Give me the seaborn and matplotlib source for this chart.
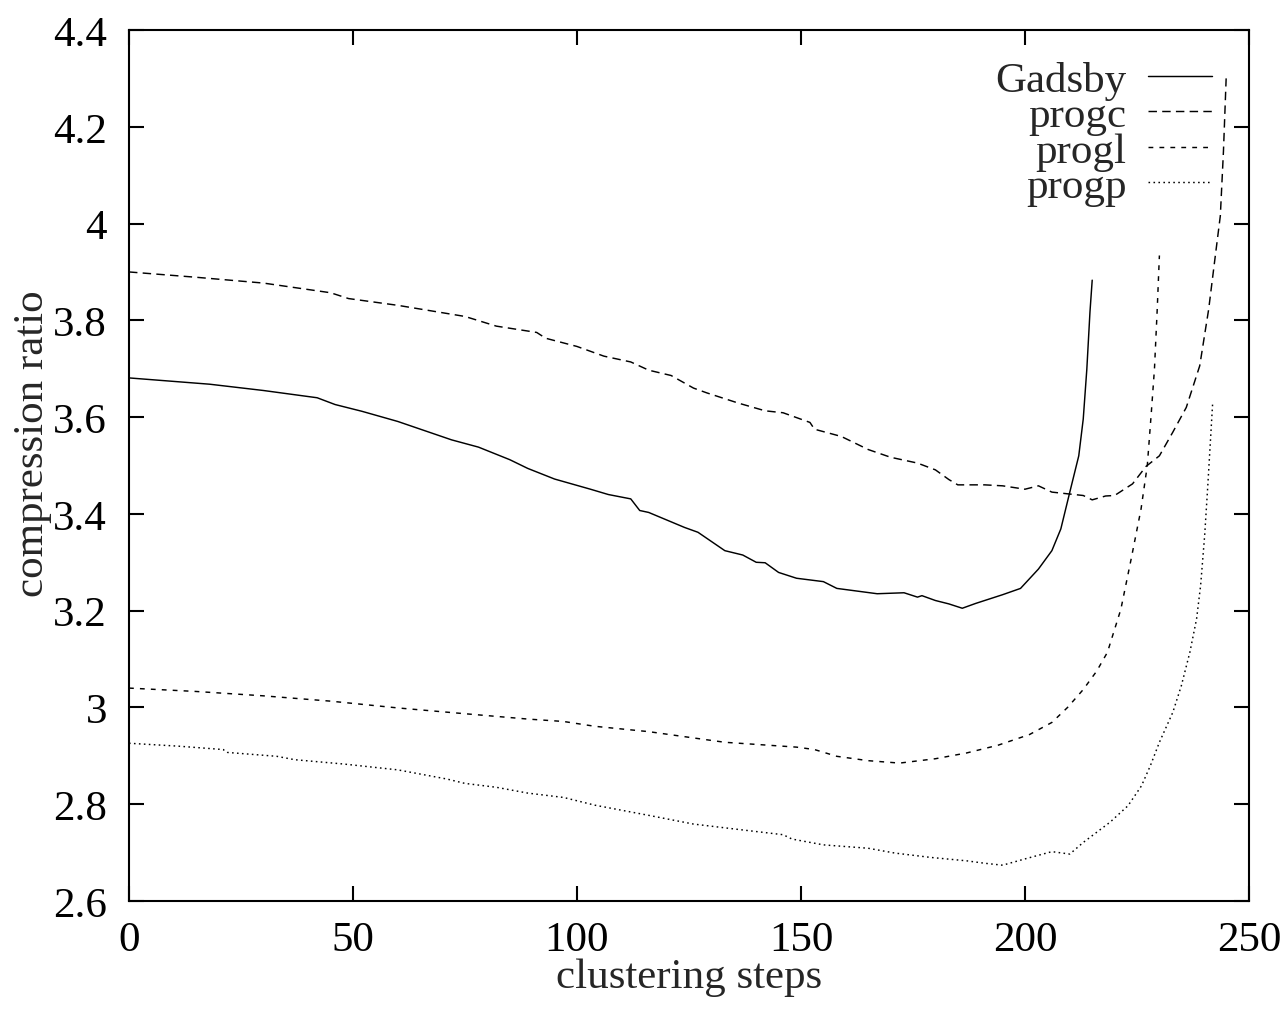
import matplotlib
matplotlib.use("Agg")
import matplotlib.pyplot as plt
import seaborn as sns
import pandas as pd

# valores
gadsby_steps = [0, 18, 30, 42, 46, 52, 60, 66, 72, 78, 85, 89, 95, 103, 107, 112, 114, 116,
                124, 127, 133, 137, 140, 142, 145, 149, 155, 158, 167, 173, 176, 177, 180,
                183, 186, 189, 192, 195, 199, 203, 206, 208, 210, 212, 213, 213.8, 214.5, 215]
gadsby_ratio = [3.681, 3.668, 3.655, 3.640, 3.626, 3.612, 3.591, 3.572, 3.553, 3.538, 3.512,
                3.494, 3.472, 3.451, 3.440, 3.431, 3.407, 3.403, 3.372, 3.362, 3.324, 3.315,
                3.300, 3.299, 3.279, 3.267, 3.260, 3.246, 3.235, 3.237, 3.228, 3.231, 3.221,
                3.214, 3.205, 3.215, 3.224, 3.233, 3.246, 3.286, 3.324, 3.369, 3.445, 3.520,
                3.596, 3.699, 3.817, 3.883]

progc_steps = [0, 15, 30, 45, 49, 60, 75, 82, 91, 93, 100, 106, 112, 116, 121, 126, 129, 136,
               142, 146, 152, 153, 159, 165, 170, 176, 180, 183, 185, 191, 195, 200, 203, 206,
               210, 213, 215, 218, 220, 224, 227, 230, 233, 236, 239, 241, 242.3, 243.6, 244.3,
               244.9]
progc_ratio = [3.900, 3.889, 3.877, 3.857, 3.845, 3.831, 3.808, 3.788, 3.775, 3.763, 3.746,
               3.726, 3.714, 3.697, 3.686, 3.660, 3.650, 3.629, 3.613, 3.609, 3.589, 3.575,
               3.560, 3.533, 3.517, 3.505, 3.491, 3.471, 3.460, 3.460, 3.458, 3.451, 3.458,
               3.445, 3.441, 3.438, 3.429, 3.437, 3.438, 3.462, 3.498, 3.520, 3.569, 3.620,
               3.706, 3.823, 3.920, 4.016, 4.150, 4.300]

progl_steps = [0, 15, 30, 45, 60, 75, 89, 97, 104, 116, 126, 133, 141, 149, 153, 158, 165, 172,
               180, 187, 194, 201, 206, 209.5, 213, 216, 218.4, 221.4, 223.7, 225.9, 227.3,
               228.2, 228.9, 229.5, 230]
progl_ratio = [3.040, 3.033, 3.024, 3.013, 2.999, 2.987, 2.976, 2.971, 2.961, 2.950, 2.937,
               2.928, 2.923, 2.918, 2.913, 2.899, 2.890, 2.885, 2.894, 2.906, 2.922, 2.944,
               2.969, 3.000, 3.037, 3.075, 3.114, 3.203, 3.307, 3.410, 3.500, 3.610, 3.700,
               3.820, 3.934]

progp_steps = [0, 11, 21, 22, 33, 37, 48, 60, 71, 75, 82, 89, 97, 104, 116, 126, 135, 146, 148,
               155, 165, 168, 171, 179, 187, 191, 195, 200, 206, 210, 213, 219, 223, 226, 228,
               230, 233, 234.9, 236.8, 238.3, 239.2, 240.1, 240.8, 241.9]
progp_ratio = [2.926, 2.920, 2.913, 2.907, 2.899, 2.892, 2.883, 2.871, 2.852, 2.843, 2.835,
               2.823, 2.814, 2.798, 2.777, 2.759, 2.749, 2.737, 2.728, 2.716, 2.709, 2.704,
               2.699, 2.690, 2.683, 2.678, 2.674, 2.687, 2.702, 2.697, 2.721, 2.763, 2.797,
               2.838, 2.880, 2.928, 2.990, 3.045, 3.114, 3.183, 3.252, 3.355, 3.458, 3.631]

x_ticks = [0, 50, 100, 150, 200, 250]
y_ticks = [2.6, 2.8, 3.0, 3.2, 3.4, 3.6, 3.8, 4.0, 4.2, 4.4]
y_tick_labels = ["2.6", "2.8", "3", "3.2", "3.4", "3.6", "3.8", "4", "4.2", "4.4"]

series = [
    ("Gadsby", gadsby_steps, gadsby_ratio, "-"),
    ("progc", progc_steps, progc_ratio, (0, (5.8, 3.6))),
    ("progl", progl_steps, progl_ratio, (0, (3.3, 4.2))),
    ("progp", progp_steps, progp_ratio, (0, (1.1, 2.3))),
]

FS = 31

sns.set_theme(style="ticks")
plt.rcParams["font.family"] = ["Liberation Serif", "DejaVu Serif"]
plt.rcParams["axes.linewidth"] = 1.5

fig = plt.figure(figsize=(12.87, 10.12), dpi=100)
ax = fig.add_axes([129 / 1287, 1 - 902 / 1012, 1120 / 1287, 871 / 1012])

for name, steps, ratio, ls in series:
    df = pd.DataFrame({"step": steps, "ratio": ratio})
    sns.lineplot(data=df, x="step", y="ratio", ax=ax, color="black", linewidth=1.05,
                 linestyle=ls, estimator=None, sort=False, label=name)

ax.set_xlim(0, 250)
ax.set_ylim(2.6, 4.4)
ax.set_xticks(x_ticks)
ax.set_xticklabels([str(t) for t in x_ticks])
ax.set_yticks(y_ticks)
ax.set_yticklabels(y_tick_labels)
ax.tick_params(direction="in", length=10.5, width=1.5, labelsize=FS,
               top=True, right=True, colors="black")
ax.tick_params(axis="x", pad=14)
ax.tick_params(axis="y", pad=16)
for sp in ax.spines.values():
    sp.set_color("black")
    sp.set_linewidth(1.5)

ax.set_xlabel("clustering steps", fontsize=FS, labelpad=-1)
ax.set_ylabel("compression ratio", fontsize=FS)
# el ancla de la etiqueta es su borde derecho (texto girado)
ax.yaxis.set_label_coords(-0.069, 0.526)

leg = ax.legend(loc="upper right", bbox_to_anchor=(1212 / 1287, 1 - 62 / 1012),
                bbox_transform=fig.transFigure, frameon=False, markerfirst=False,
                fontsize=FS, handlelength=1.49, handletextpad=0.49, labelspacing=-0.09,
                borderpad=0, borderaxespad=0)

fig.savefig("out.png", dpi=100)
